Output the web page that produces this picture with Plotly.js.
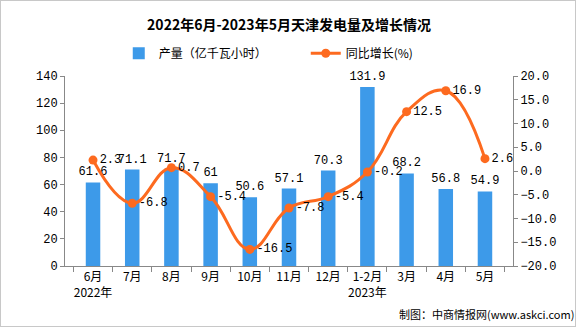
<!DOCTYPE html>
<html>
<head>
<meta charset="utf-8">
<script src="https://cdn.plot.ly/plotly-3.0.1.min.js"></script>
<style>
html,body{margin:0;padding:0;background:#fff;}
#chart{width:576px;height:327px;box-sizing:border-box;border:1px solid #c8c8c8;}
</style>
</head>
<body>
<div id="chart"></div>
<script>
const categories = ["6月<br>2022年","7月","8月","9月","10月","11月","12月","1-2月<br>2023年","3月","4月","5月"];
const output = [61.6, 71.1, 71.7, 61, 50.6, 57.1, 70.3, 131.9, 68.2, 56.8, 54.9];
const growth = [2.3, -6.8, 0.7, -5.4, -16.5, -7.8, -5.4, -0.2, 12.5, 16.9, 2.6];

const monoFont = "'Liberation Mono','DejaVu Sans Mono',monospace";
const cjkFont = "'Noto Sans CJK SC','Noto Sans',sans-serif";

const traces = [
  {
    type: 'bar', x: categories, y: output, name: '产量（亿千瓦小时）',
    marker: {color: '#3d9ae9'},
    text: output.map(String), textposition: 'outside', cliponaxis: false, constraintext: 'none',
    textfont: {family: monoFont, size: 12, color: '#000'},
    hoverinfo: 'none'
  },
  {
    type: 'scatter', mode: 'lines+markers+text', x: categories, y: growth, yaxis: 'y2',
    name: '同比增长(%)',
    line: {color: '#fd6a1f', width: 3, shape: 'spline', smoothing: 1.2},
    marker: {color: '#fd6a1f', size: 9},
    text: growth.map(String), textposition: 'middle right', cliponaxis: false,
    textfont: {family: monoFont, size: 12, color: '#000'},
    hoverinfo: 'none'
  }
];

const layout = {
  width: 576, height: 327,
  margin: {l: 64, r: 64, t: 75, b: 62},
  paper_bgcolor: 'rgba(0,0,0,0)', plot_bgcolor: 'rgba(0,0,0,0)',
  title: {text: '<b>2022年6月-2023年5月天津发电量及增长情况</b>', x: 0.5, xanchor: 'center', y: 0.925, yanchor: 'middle',
          font: {family: cjkFont, size: 14, color: '#000'}},
  showlegend: true,
  legend: {orientation: 'h', x: 0.12, xanchor: 'left', y: 1.12, yanchor: 'middle',
           font: {family: cjkFont, size: 12, color: '#000'}, entrywidth: 142, entrywidthmode: 'pixels',
           itemwidth: 30, tracegroupgap: 0, traceorder: 'normal'},
  bargap: 0.63,
  xaxis: {
    type: 'category', showline: true, linecolor: '#888', linewidth: 1, tickangle: 0,
    ticks: 'outside', ticklen: 5, tickcolor: '#888', tickson: 'boundaries',
    tickfont: {family: cjkFont, size: 12, color: '#000'}, showgrid: false, fixedrange: true
  },
  yaxis: {
    range: [0, 140], dtick: 20, showline: true, linecolor: '#888', linewidth: 1,
    ticks: 'outside', ticklen: 4, tickcolor: '#888', showgrid: false, zeroline: false,
    tickfont: {family: monoFont, size: 12, color: '#000'}
  },
  yaxis2: {
    overlaying: 'y', side: 'right', range: [-20, 20], dtick: 5, tickformat: '.1f',
    showline: true, linecolor: '#888', linewidth: 1, ticks: 'outside', ticklen: 4, tickcolor: '#888',
    showgrid: false, zeroline: false,
    tickfont: {family: monoFont, size: 12, color: '#000'}
  },
  annotations: [
    {text: '制图：中商情报网(www.askci.com)', xref: 'paper', yref: 'paper', x: 1.14, y: -0.255,
     xanchor: 'right', yanchor: 'middle', showarrow: false,
     font: {family: cjkFont, size: 11, color: '#000'}}
  ]
};

Plotly.newPlot('chart', traces, layout, {displayModeBar: false, staticPlot: true});
</script>
</body>
</html>
